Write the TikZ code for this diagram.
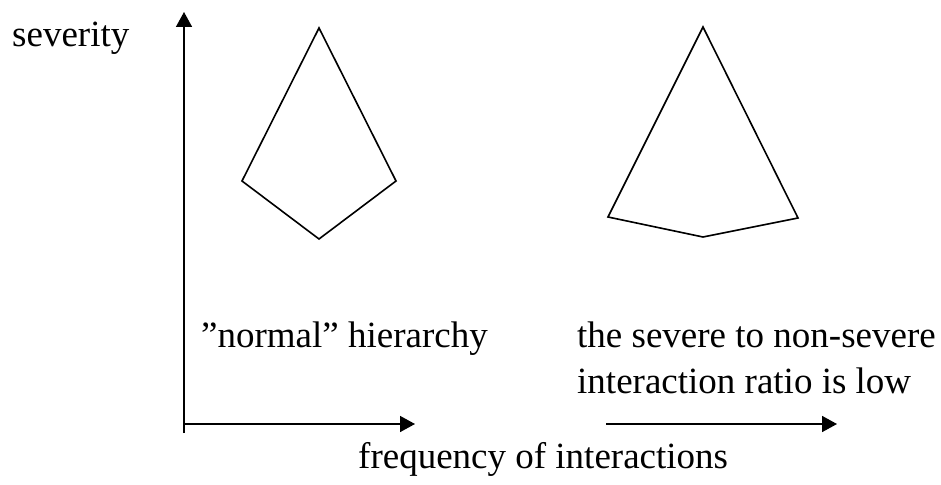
\documentclass[tikz,border=0pt]{standalone}
\usepackage{fontspec}
\setmainfont{Liberation Serif}
\usetikzlibrary{arrows.meta}
\tikzset{
  px/.style={x=1pt,y=-1pt},
  edge/.style={line width=1.6pt, line join=miter},
  axisarrow/.style={line width=1.6pt, -{Triangle[length=15pt,width=16pt]}},
  lbl/.style={inner sep=0pt, anchor=base west, font=\fontsize{37}{46}\selectfont}
}
\begin{document}
\begin{tikzpicture}[px]
\useasboundingbox (0,0) rectangle (941,484);
% axes
\coordinate (ybot) at (184,433);
\coordinate (ytop) at (184,12);
\coordinate (xstart) at (184,424);
\coordinate (xend) at (415,424);
\coordinate (x2start) at (606,424);
\coordinate (x2end) at (837,424);
\draw[line width=1.6pt] (ybot) -- (xstart);
\draw[axisarrow] (xstart) -- (ytop);
\draw[axisarrow] (xstart) -- (xend);
\draw[axisarrow] (x2start) -- (x2end);
% left kite
\coordinate (lt) at (319,28);
\coordinate (ll) at (242,181);
\coordinate (lb) at (319,239);
\coordinate (lr) at (396,181);
\draw[edge] (lt) -- (ll) -- (lb) -- (lr) -- cycle;
% right kite
\coordinate (rt) at (703,27);
\coordinate (rl) at (608,217);
\coordinate (rb) at (703,237);
\coordinate (rr) at (798,218);
\draw[edge] (rt) -- (rl) -- (rb) -- (rr) -- cycle;
% labels
\node[lbl] (sev) at (12,47) {severity};
\node[lbl] (norm) at (201,347) {”normal” hierarchy};
\node[lbl] (low1) at (577,347) {the severe to non-severe};
\node[lbl] (low2) at (577,393) {interaction ratio is low};
\node[lbl] (freq) at (358,468) {frequency of interactions};
\end{tikzpicture}
\end{document}
